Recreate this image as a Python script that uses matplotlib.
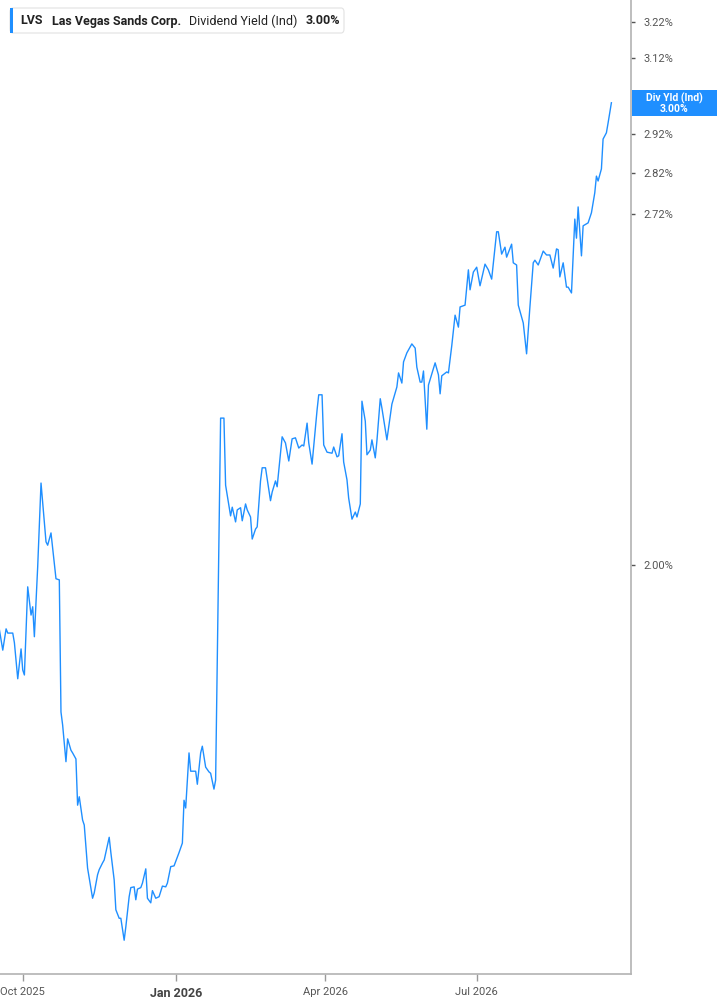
import datetime as dt

import matplotlib.pyplot as plt
from matplotlib.patches import FancyBboxPatch, Rectangle
from matplotlib.text import Annotation
from matplotlib.ticker import FixedLocator, FixedFormatter, NullLocator

plt.rcParams["font.family"] = ["Roboto", "DejaVu Sans"]

# LVS indicated dividend yield (%)
dates = [
    "2025-09-17", "2025-09-19", "2025-09-21", "2025-09-22", "2025-09-25", "2025-09-26",
    "2025-09-28", "2025-09-30", "2025-10-01", "2025-10-02", "2025-10-04", "2025-10-06",
    "2025-10-07", "2025-10-08", "2025-10-10", "2025-10-12", "2025-10-15", "2025-10-16",
    "2025-10-18", "2025-10-21", "2025-10-23", "2025-10-24", "2025-10-25", "2025-10-27",
    "2025-10-28", "2025-10-30", "2025-10-31", "2025-11-02", "2025-11-03", "2025-11-04",
    "2025-11-06", "2025-11-07", "2025-11-09", "2025-11-12", "2025-11-13", "2025-11-15",
    "2025-11-16", "2025-11-18", "2025-11-19", "2025-11-22", "2025-11-23", "2025-11-25",
    "2025-11-26", "2025-11-28", "2025-11-29", "2025-12-01", "2025-12-02", "2025-12-04",
    "2025-12-05", "2025-12-07", "2025-12-08", "2025-12-09", "2025-12-11", "2025-12-12",
    "2025-12-14", "2025-12-15", "2025-12-17", "2025-12-18", "2025-12-20", "2025-12-22",
    "2025-12-24", "2025-12-26", "2025-12-27", "2025-12-29", "2025-12-31",
    "2026-01-03", "2026-01-05", "2026-01-06", "2026-01-07", "2026-01-09", "2026-01-10",
    "2026-01-13", "2026-01-14", "2026-01-16", "2026-01-17", "2026-01-19", "2026-01-21",
    "2026-01-22", "2026-01-24", "2026-01-25", "2026-01-28", "2026-01-30", "2026-01-31",
    "2026-02-03", "2026-02-04", "2026-02-06", "2026-02-07", "2026-02-09", "2026-02-10",
    "2026-02-12", "2026-02-13", "2026-02-15", "2026-02-16", "2026-02-18", "2026-02-19",
    "2026-02-21", "2026-02-22", "2026-02-24", "2026-02-27", "2026-02-28", "2026-03-02",
    "2026-03-03", "2026-03-06", "2026-03-08", "2026-03-10", "2026-03-12", "2026-03-14",
    "2026-03-16", "2026-03-18", "2026-03-19", "2026-03-21", "2026-03-22", "2026-03-24",
    "2026-03-27", "2026-03-28", "2026-03-30", "2026-03-31", "2026-04-02", "2026-04-05",
    "2026-04-06", "2026-04-08", "2026-04-09", "2026-04-11", "2026-04-12", "2026-04-14",
    "2026-04-15", "2026-04-17", "2026-04-19", "2026-04-20", "2026-04-22", "2026-04-23",
    "2026-04-25", "2026-04-26", "2026-04-28", "2026-04-29", "2026-05-01", "2026-05-02",
    "2026-05-04", "2026-05-05", "2026-05-08", "2026-05-11", "2026-05-14", "2026-05-15",
    "2026-05-17", "2026-05-18", "2026-05-20", "2026-05-23", "2026-05-25", "2026-05-26",
    "2026-05-28", "2026-05-29", "2026-05-30", "2026-06-01", "2026-06-02", "2026-06-04",
    "2026-06-06", "2026-06-08", "2026-06-09", "2026-06-10", "2026-06-13", "2026-06-14",
    "2026-06-16", "2026-06-18", "2026-06-20", "2026-06-21", "2026-06-24", "2026-06-26",
    "2026-06-27", "2026-06-29", "2026-07-01", "2026-07-03", "2026-07-06", "2026-07-08",
    "2026-07-10", "2026-07-13", "2026-07-14", "2026-07-16", "2026-07-18", "2026-07-19",
    "2026-07-22", "2026-07-23", "2026-07-25", "2026-07-26", "2026-07-29", "2026-07-31",
    "2026-08-02", "2026-08-04", "2026-08-05", "2026-08-07", "2026-08-10", "2026-08-12",
    "2026-08-14", "2026-08-16", "2026-08-18", "2026-08-19", "2026-08-20", "2026-08-22",
    "2026-08-24", "2026-08-25", "2026-08-27", "2026-08-29", "2026-08-30", "2026-08-31",
    "2026-09-02", "2026-09-03", "2026-09-06", "2026-09-08", "2026-09-10", "2026-09-11",
    "2026-09-12", "2026-09-14", "2026-09-15", "2026-09-17", "2026-09-18", "2026-09-20",
]
div_yield = [
    1.889, 1.856, 1.891, 1.884, 1.884, 1.868,
    1.810, 1.858, 1.824, 1.816, 1.962, 1.914,
    1.928, 1.878, 1.997, 2.149, 2.041, 2.035,
    2.057, 1.976, 1.974, 1.758, 1.738, 1.683,
    1.717, 1.700, 1.696, 1.687, 1.620, 1.632,
    1.599, 1.592, 1.533, 1.493, 1.500, 1.524,
    1.531, 1.540, 1.544, 1.575, 1.554, 1.517,
    1.478, 1.467, 1.467, 1.439, 1.456, 1.495,
    1.507, 1.508, 1.491, 1.505, 1.507, 1.513,
    1.532, 1.493, 1.487, 1.503, 1.493, 1.495,
    1.509, 1.508, 1.513, 1.535, 1.536,
    1.554, 1.567, 1.627, 1.616, 1.696, 1.669,
    1.669, 1.650, 1.696, 1.706, 1.675, 1.668,
    1.666, 1.643, 1.656, 2.275, 2.275, 2.145,
    2.088, 2.104, 2.077, 2.099, 2.103, 2.079,
    2.110, 2.099, 2.086, 2.046, 2.064, 2.068,
    2.153, 2.178, 2.178, 2.116, 2.132, 2.153,
    2.142, 2.238, 2.226, 2.191, 2.234, 2.236,
    2.216, 2.222, 2.220, 2.265, 2.226, 2.185,
    2.291, 2.322, 2.322, 2.222, 2.208, 2.206,
    2.218, 2.199, 2.201, 2.244, 2.189, 2.155,
    2.121, 2.082, 2.095, 2.086, 2.110, 2.309,
    2.269, 2.203, 2.212, 2.232, 2.197, 2.230,
    2.314, 2.295, 2.232, 2.303, 2.338, 2.367,
    2.346, 2.390, 2.409, 2.428, 2.419, 2.379,
    2.348, 2.348, 2.371, 2.253, 2.342, 2.365,
    2.388, 2.363, 2.324, 2.361, 2.369, 2.367,
    2.424, 2.490, 2.464, 2.508, 2.512, 2.591,
    2.546, 2.586, 2.597, 2.555, 2.604, 2.591,
    2.570, 2.679, 2.679, 2.627, 2.643, 2.620,
    2.650, 2.607, 2.602, 2.512, 2.473, 2.407,
    2.508, 2.607, 2.613, 2.602, 2.634, 2.625,
    2.625, 2.595, 2.639, 2.637, 2.575, 2.607,
    2.552, 2.552, 2.539, 2.709, 2.664, 2.738,
    2.623, 2.693, 2.700, 2.724, 2.772, 2.813,
    2.801, 2.831, 2.906, 2.922, 2.947, 3.000,
]

y_ticks = [2.00, 2.72, 2.82, 2.92, 3.12, 3.22]
x_ticks = ["2025-10-01", "2026-01-01", "2026-04-01", "2026-07-01"]
x_labels = ["Oct 2025", "Jan 2026", "Apr 2026", "Jul 2026"]

BLUE = "#1f8fff"
GREY = "#555555"
W, H = 717, 1005

days = [dt.datetime.strptime(d, "%Y-%m-%d") for d in dates]

fig = plt.figure(figsize=(W / 100, H / 100), dpi=100)
ax = fig.add_axes([0, 31 / H, 631 / W, 1 - 31 / H])

ax.plot(days, div_yield, color=BLUE, lw=1.0, solid_joinstyle="round")

ax.set_yscale("log")
ax.set_ylim(1.397, 3.283)
ax.set_xlim(dt.datetime(2025, 9, 17, 8), dt.datetime(2026, 10, 1, 19))

ax.yaxis.tick_right()
ax.yaxis.set_major_locator(FixedLocator(y_ticks))
ax.yaxis.set_major_formatter(FixedFormatter([f"{v:.2f}%" for v in y_ticks]))
ax.yaxis.set_minor_locator(NullLocator())
ax.tick_params(axis="y", length=3, width=1, color=GREY, pad=6,
               labelsize=8, labelcolor=GREY)

tick_days = [dt.datetime.strptime(d, "%Y-%m-%d") for d in x_ticks]
ax.set_xticks(tick_days)
ax.set_xticklabels(x_labels)
ax.xaxis.set_minor_locator(NullLocator())
ax.tick_params(axis="x", length=5, width=1, color="#999999", pad=4,
               labelsize=8, labelcolor=GREY)
for lbl in ax.get_xticklabels():
    if lbl.get_text().startswith("Jan"):
        lbl.set_fontweight("bold")
        lbl.set_color("#444444")
        lbl.set_fontsize(9)

for side in ("left", "top"):
    ax.spines[side].set_visible(False)
for side in ("right", "bottom"):
    ax.spines[side].set_color("#b3b3b3")
    ax.spines[side].set_linewidth(1.2)

# last value tag on the right axis
fig.patches.append(Rectangle((632 / W, 1 - 116 / H), 85 / W, 26 / H,
                             transform=fig.transFigure, facecolor=BLUE,
                             edgecolor="none"))
fig.text(674 / W, 1 - 103 / H, f"Div Yld (Ind)\n{div_yield[-1]:.2f}%",
         ha="center", va="center", color="white", fontsize=7.5,
         fontweight="bold", linespacing=1.0)

# header legend
fig.patches.append(FancyBboxPatch((10 / W, 1 - 33 / H), 334 / W, 25 / H,
                                  boxstyle="round,pad=0,rounding_size=0.004",
                                  transform=fig.transFigure, facecolor="white",
                                  edgecolor="#e2e2e2", lw=0.8))
fig.patches.append(Rectangle((10 / W, 1 - 33 / H), 3 / W, 25 / H,
                             transform=fig.transFigure, facecolor=BLUE,
                             edgecolor="none"))

parts = [
    ("LVS", "bold", 0),
    ("Las Vegas Sands Corp.", "bold", 9),
    ("Dividend Yield (Ind)", "normal", 8),
    (f"{div_yield[-1]:.2f}%", "bold", 9),
]
prev = None
for text, weight, gap in parts:
    if prev is None:
        prev = fig.text(20 / W, 1 - 21 / H, text, ha="left", va="center",
                        fontsize=9, fontweight=weight, color="#222222",
                        zorder=5)
    else:
        a = Annotation(text, xy=(1, 0.5), xycoords=prev,
                       xytext=(gap, 0), textcoords="offset pixels",
                       ha="left", va="center", fontsize=9,
                       fontweight=weight, color="#222222", zorder=5)
        fig.add_artist(a)
        prev = a

fig.savefig("out.png", dpi=100)
